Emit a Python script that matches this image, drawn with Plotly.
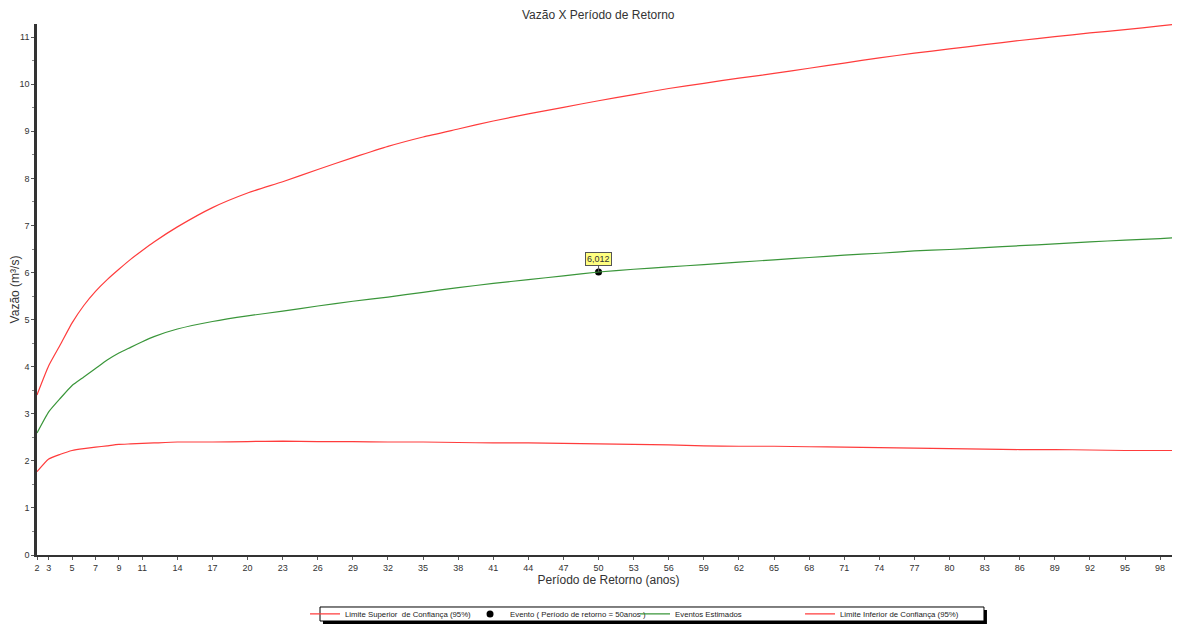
import plotly.graph_objects as go

# ---- data ----
anos = [2, 3, 4, 5, 6, 7, 8, 9, 10, 11, 12, 14, 17, 20, 23, 26, 29, 32, 35, 38, 41,
        44, 47, 50, 53, 56, 59, 62, 65, 68, 71, 74, 77, 80, 83, 86, 89, 92, 95, 98, 100]

limite_superior = [3.40, 4.02, 4.47, 4.93, 5.30, 5.60, 5.85, 6.07, 6.28, 6.47, 6.65,
                   6.97, 7.38, 7.69, 7.93, 8.19, 8.44, 8.68, 8.88, 9.05, 9.22,
                   9.37, 9.51, 9.65, 9.78, 9.91, 10.02, 10.13, 10.23, 10.34, 10.45,
                   10.56, 10.66, 10.75, 10.84, 10.93, 11.01, 11.09, 11.16, 11.24, 11.29]

eventos_estimados = [2.59, 3.04, 3.33, 3.60, 3.78, 3.96, 4.14, 4.29, 4.41, 4.53, 4.64,
                     4.80, 4.96, 5.08, 5.18, 5.29, 5.39, 5.48, 5.58, 5.68, 5.77,
                     5.85, 5.93, 6.012, 6.07, 6.12, 6.17, 6.22, 6.27, 6.32, 6.37,
                     6.41, 6.46, 6.49, 6.53, 6.57, 6.61, 6.65, 6.69, 6.72, 6.75]

limite_inferior = [1.77, 2.04, 2.14, 2.22, 2.26, 2.29, 2.32, 2.35, 2.36, 2.37, 2.38,
                   2.40, 2.40, 2.41, 2.42, 2.41, 2.41, 2.40, 2.40, 2.39, 2.38,
                   2.38, 2.37, 2.36, 2.35, 2.34, 2.32, 2.31, 2.31, 2.30, 2.29,
                   2.28, 2.27, 2.26, 2.25, 2.24, 2.24, 2.23, 2.22, 2.22, 2.22]

evento_x = [50]
evento_y = [6.012]
evento_label = "6,012"

x_ticks = [2, 3, 5, 7, 9, 11] + list(range(14, 99, 3))
y_ticks = list(range(0, 12))

RED = "#ff3c3c"
GREEN = "#3a963a"
FONT = "Liberation Sans, Arial, sans-serif"

fig = go.Figure()
fig.add_trace(go.Scatter(x=anos, y=limite_superior, mode="lines",
                         name="Limite Superior  de Confiança (95%)",
                         line=dict(color=RED, width=1.2, shape="spline", smoothing=0.5)))
fig.add_trace(go.Scatter(x=evento_x, y=evento_y, mode="markers",
                         name="Evento ( Período de retorno = 50anos )",
                         marker=dict(color="black", size=7)))
fig.add_trace(go.Scatter(x=anos, y=eventos_estimados, mode="lines",
                         name="Eventos Estimados",
                         line=dict(color=GREEN, width=1.2, shape="spline", smoothing=0.5)))
fig.add_trace(go.Scatter(x=anos, y=limite_inferior, mode="lines",
                         name="Limite Inferior de Confiança (95%)",
                         line=dict(color=RED, width=1.2, shape="spline", smoothing=0.5)))

# value label of the event point
fig.add_annotation(x=evento_x[0], y=evento_y[0], text=evento_label,
                   showarrow=True, arrowhead=0, arrowcolor="#555", arrowwidth=1,
                   ax=0, ay=-13, bgcolor="#ffff80", bordercolor="#555", borderwidth=1,
                   borderpad=1, font=dict(family=FONT, size=9, color="#333"))

# legend frame with drop shadow
fig.add_shape(type="rect", xref="paper", yref="paper",
              x0=0.2502, x1=0.8311, y0=-0.1299, y1=-0.1036,
              fillcolor="black", line=dict(width=0), layer="above")
fig.add_shape(type="rect", xref="paper", yref="paper",
              x0=0.2476, x1=0.8285, y0=-0.1243, y1=-0.0979,
              fillcolor="white", line=dict(color="black", width=1), layer="above")

# the page body adds an 8 px offset, so the figure is 8 px smaller than the window
fig.update_layout(
    width=1172, height=616,
    margin=dict(l=29, r=0, t=16, b=69, autoexpand=False),
    paper_bgcolor="white", plot_bgcolor="white",
    font=dict(family=FONT, color="#333"),
    title=dict(text="Vazão X Período de Retorno", x=0.491, xref="paper",
               xanchor="center", y=0.9886, yanchor="middle",
               font=dict(family=FONT, size=12, color="#333")),
    showlegend=True,
    legend=dict(orientation="h", x=0.2345, xanchor="left", y=-0.111, yanchor="middle",
                bgcolor="rgba(0,0,0,0)", borderwidth=0,
                entrywidth=120, entrywidthmode="pixels",
                font=dict(family=FONT, size=7.8, color="#222")),
    xaxis=dict(range=[2, 99.7], tickmode="array", tickvals=x_ticks, automargin=False,
               showgrid=False, zeroline=False, showline=True, linecolor="#333",
               linewidth=2, ticks="outside", ticklen=3, tickcolor="#555",
               tickfont=dict(family=FONT, size=9, color="#333"),
               title=dict(text="Período de Retorno (anos)", standoff=0,
                          font=dict(family=FONT, size=12, color="#333"))),
    yaxis=dict(range=[0, 11.28], tickmode="array", tickvals=y_ticks, automargin=False,
               showgrid=False, zeroline=False, showline=True, linecolor="#333",
               linewidth=2.5, ticks="outside", ticklen=3, tickcolor="#555",
               minor=dict(dtick=0.5, ticks="outside", ticklen=2, tickcolor="#888"),
               tickfont=dict(family=FONT, size=9, color="#333"),
               title=dict(text="Vazão (m³/s)", standoff=0,
                          font=dict(family=FONT, size=12, color="#333"))),
)

fig.write_html("out.html")
